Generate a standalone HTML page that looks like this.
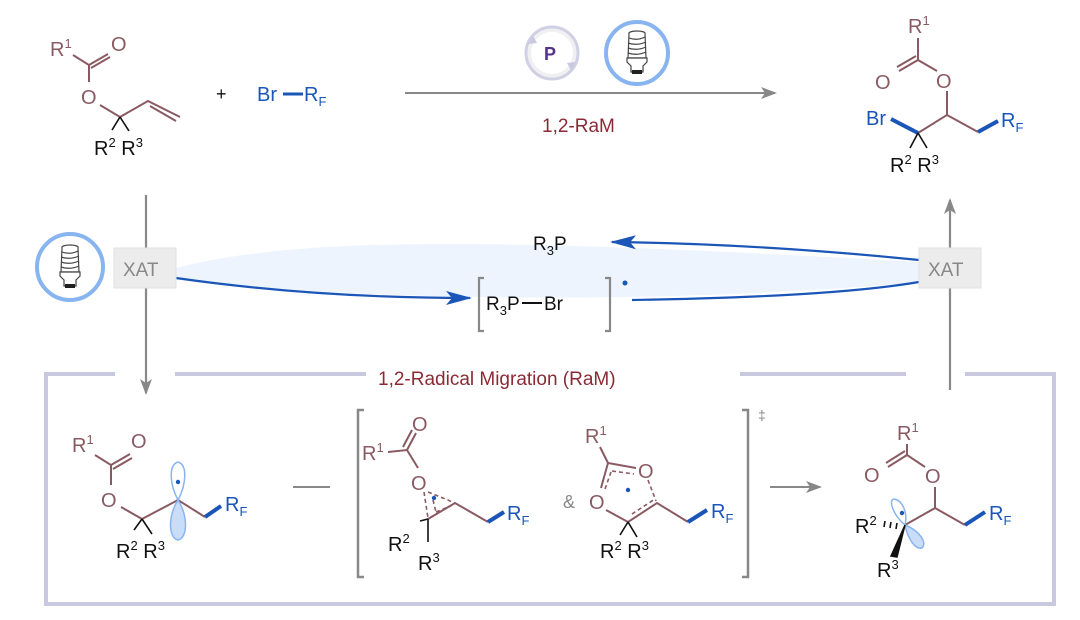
<!DOCTYPE html>
<html><head><meta charset="utf-8"><style>
html,body{margin:0;padding:0;background:#fff;width:1080px;height:620px;overflow:hidden}
svg{display:block}
text{font-family:"Liberation Sans",sans-serif}
.m{fill:#8a5a62}.k{fill:#111}.b{fill:#1a55b8}
.ml{stroke:#8a5a62;stroke-width:2;fill:none}
.kl{stroke:#111;stroke-width:1.6;fill:none}
.bl{stroke:#1a55b8;stroke-width:4;fill:none}
.dl{stroke:#8a5a62;stroke-width:1.6;stroke-dasharray:4,3;fill:none}
</style></head><body>
<svg width="1080" height="620" viewBox="0 0 1080 620" xmlns="http://www.w3.org/2000/svg">
<defs>
<marker id="ga2" markerWidth="16" markerHeight="12" refX="14" refY="6" orient="auto" markerUnits="userSpaceOnUse"><path d="M0,0 L16,6 L0,12 L4,6z" fill="#888"/></marker>
<marker id="ba" markerWidth="26" markerHeight="14" refX="24" refY="7" orient="auto" markerUnits="userSpaceOnUse"><path d="M0,0 L26,7 L0,14 L6,7z" fill="#1a55b8"/></marker>
<g id="bulb">
<path d="M-8,-16 C-10,-20 10,-20 8,-16 L9,8 L-9,8z" fill="#fff" stroke="#444" stroke-width="1.2"/>
<path d="M-8,-12 Q0,-9 8,-13 M-9,-7 Q0,-4 9,-8 M-9,-2 Q0,1 9,-3 M-9,3 Q0,6 9,2" stroke="#444" stroke-width="1.2" fill="none"/>
<path d="M-10,8 L10,8 L10,12 L6,16 L6,22 L-6,22 L-6,16 L-10,12z" fill="#fff" stroke="#444" stroke-width="1.2"/>
<rect x="-5" y="20" width="10" height="4" fill="#222"/>
</g>
</defs>

<text x="50" y="56" font-size="20" class="m">R<tspan font-size="13" dy="-8">1</tspan></text>
<text x="111" y="51" font-size="20" class="m">O</text>
<path class="ml" d="M73,55 L89,65 L89,82 M89,65 L108,54 M91,68 L110,57"/>
<text x="81" y="104" font-size="20" class="m">O</text>
<path class="ml" d="M100,105 L120,117 L148,101 L180,117 M150,106 L176,121"/>
<path class="kl" d="M120,117 L112,130 M120,117 L129,131"/>
<text x="94" y="155" font-size="20" class="k">R<tspan font-size="13" dy="-8">2</tspan><tspan dy="8"> R</tspan><tspan font-size="13" dy="-8">3</tspan></text>
<text x="216" y="100" font-size="18" class="k">+</text>
<text x="257" y="101" font-size="20" class="b">Br</text>
<path d="M283,94 L303,94" stroke="#1a55b8" stroke-width="3"/>
<text x="304" y="101" font-size="20" class="b">R<tspan font-size="13" dy="5">F</tspan></text>

<line x1="405" y1="93" x2="775" y2="93" stroke="#888" stroke-width="2" marker-end="url(#ga2)"/>
<circle cx="552" cy="53" r="26" fill="#f0f0f2" stroke="#d0d0e4" stroke-width="3"/>
<circle cx="552" cy="53" r="21" fill="#fff"/>
<path d="M528,44 l5,-8 l4,7z M576,62 l-5,8 l-4,-7z" fill="#c8c8e0"/>
<text x="544" y="60" font-size="18" font-weight="bold" fill="#553388">P</text>
<circle cx="637" cy="53" r="31" fill="#fff" stroke="#88b4f0" stroke-width="4"/>
<use href="#bulb" x="637" y="50"/>
<text x="542" y="132" font-size="19" fill="#8b2a35">1,2-RaM</text>

<text x="908" y="33" font-size="20" class="m">R<tspan font-size="13" dy="-8">1</tspan></text>
<path class="ml" d="M918,38 L918,60 L937,71 M918,60 L899,71 M916,56 L897,67"/>
<text x="875" y="89" font-size="20" class="m">O</text>
<text x="936" y="88" font-size="20" class="m">O</text>
<path class="ml" d="M947,91 L947,115 L918,133 M947,115 L978,132"/>
<path class="bl" d="M891,119 L918,133 M978,132 L998,121"/>
<text x="866" y="125" font-size="20" class="b">Br</text>
<text x="1001" y="127" font-size="20" class="b">R<tspan font-size="13" dy="5">F</tspan></text>
<path class="kl" d="M918,133 L910,148 M918,133 L927,148"/>
<text x="890" y="172" font-size="20" class="k">R<tspan font-size="13" dy="-8">2</tspan><tspan dy="8"> R</tspan><tspan font-size="13" dy="-8">3</tspan></text>

<path d="M176,268 C300,236 500,238 919,262 L919,282 C700,302 400,304 176,280z" fill="#edf4fe"/>
<line x1="146" y1="195" x2="146" y2="393" stroke="#888" stroke-width="2.2" marker-end="url(#ga2)"/>
<line x1="950" y1="390" x2="950" y2="200" stroke="#888" stroke-width="2.2" marker-end="url(#ga2)"/>
<path d="M919,260 C800,248 700,243 612,242" stroke="#1a55b8" stroke-width="2.2" fill="none" marker-end="url(#ba)"/>
<path d="M176,278 C260,290 360,298 470,298" stroke="#1a55b8" stroke-width="2.2" fill="none" marker-end="url(#ba)"/>
<path d="M632,300 C760,298 860,292 919,282" stroke="#1a55b8" stroke-width="2.2" fill="none"/>
<rect x="114" y="248" width="62" height="40" fill="#ececec" stroke="#e2e2e2"/>
<text x="123" y="276" font-size="19" fill="#888">XAT</text>
<rect x="919" y="248" width="62" height="40" fill="#ececec" stroke="#e2e2e2"/>
<text x="928" y="276" font-size="19" fill="#888">XAT</text>
<circle cx="70" cy="267" r="33" fill="#fff" stroke="#88b4f0" stroke-width="4"/>
<use href="#bulb" x="70" y="264"/>
<text x="533" y="250" font-size="19" class="k">R<tspan font-size="13" dy="5">3</tspan><tspan dy="-5">P</tspan></text>
<path d="M484,278 L479,278 L479,331 L484,331 M605,278 L610,278 L610,331 L605,331" stroke="#888" stroke-width="2.2" fill="none"/>
<text x="486" y="310" font-size="19" class="k">R<tspan font-size="13" dy="5">3</tspan><tspan dy="-5">P</tspan></text>
<line x1="522" y1="303" x2="542" y2="303" stroke="#111" stroke-width="2"/>
<text x="544" y="310" font-size="19" class="k">Br</text>
<circle cx="625" cy="283" r="2.5" fill="#1a55b8"/>

<path d="M115,374 L46,374 L46,604 L1054,604 L1054,374 L965,374 M175,374 L366,374 M740,374 L906,374" stroke="#c8c8de" stroke-width="4" fill="none"/>
<text x="378" y="385" font-size="19" fill="#8b2a35">1,2-Radical Migration (RaM)</text>

<text x="72" y="452" font-size="20" class="m">R<tspan font-size="13" dy="-8">1</tspan></text>
<text x="131" y="448" font-size="20" class="m">O</text>
<path class="ml" d="M95,455 L111,465 L111,485 M111,465 L130,454 M113,469 L132,458"/>
<text x="101" y="507" font-size="20" class="m">O</text>
<path class="ml" d="M121,507 L142,519 L178,500 L205,517"/>
<path class="bl" d="M205,517 L221,506"/>
<text x="225" y="511" font-size="20" class="b">R<tspan font-size="13" dy="5">F</tspan></text>
<path class="kl" d="M142,519 L134,530 M142,519 L152,534"/>
<text x="116" y="558" font-size="20" class="k">R<tspan font-size="13" dy="-8">2</tspan><tspan dy="8"> R</tspan><tspan font-size="13" dy="-8">3</tspan></text>
<path d="M178,500 C170,485 168,465 178,462 C188,465 186,485 178,500z" fill="#fff" stroke="#88b4f0" stroke-width="1.5"/>
<path d="M178,500 C168,515 168,538 178,540 C188,538 188,515 178,500z" fill="#c9ddf8" stroke="#88b4f0" stroke-width="1.5"/>
<circle cx="178" cy="482" r="2.2" fill="#1a55b8"/>
<line x1="293" y1="487" x2="330" y2="487" stroke="#888" stroke-width="2"/>
<path d="M364,410 L358,410 L358,577 L364,577 M742,410 L748,410 L748,577 L742,577" stroke="#888" stroke-width="2.5" fill="none"/>
<text x="758" y="420" font-size="14" fill="#888">‡</text>

<text x="362" y="460" font-size="20" class="m">R<tspan font-size="13" dy="-8">1</tspan></text>
<text x="412" y="431" font-size="20" class="m">O</text>
<path class="ml" d="M388,452 L407,450 L418,468 M407,450 L416,433 M403,447 L412,430"/>
<text x="411" y="490" font-size="20" class="m">O</text>
<path class="dl" d="M424,492 L428,518 M428,492 L455,503 M433,500 L436,512 M436,512 L451,506"/>
<path class="ml" d="M428,519 L455,503 L488,522"/>
<path class="bl" d="M488,522 L504,512"/>
<text x="507" y="520" font-size="20" class="b">R<tspan font-size="13" dy="5">F</tspan></text>
<path class="kl" d="M428,519 L428,542 M420,521 L428,519"/>
<circle cx="434" cy="498" r="2.2" fill="#1a55b8"/>
<text x="388" y="551" font-size="20" class="k">R<tspan font-size="13" dy="-8">2</tspan></text>
<text x="418" y="570" font-size="20" class="k">R<tspan font-size="13" dy="-8">3</tspan></text>
<text x="563" y="508" font-size="18" fill="#888">&amp;</text>

<text x="585" y="443" font-size="20" class="m">R<tspan font-size="13" dy="-8">1</tspan></text>
<path class="ml" d="M600,447 L608,463 L636,468 M608,463 L601,488 M606,510 L628,522 L657,503 L688,522"/>
<path class="dl" d="M612,471 L634,474 M611,472 L605,489 M632,514 L655,499 M648,480 L656,501"/>
<text x="638" y="478" font-size="20" class="m">O</text>
<text x="589" y="509" font-size="20" class="m">O</text>
<path class="bl" d="M688,522 L707,510"/>
<text x="711" y="518" font-size="20" class="b">R<tspan font-size="13" dy="5">F</tspan></text>
<path class="kl" d="M628,522 L620,535 M628,522 L637,537"/>
<circle cx="628" cy="490" r="2.2" fill="#1a55b8"/>
<text x="600" y="558" font-size="20" class="k">R<tspan font-size="13" dy="-8">2</tspan><tspan dy="8"> R</tspan><tspan font-size="13" dy="-8">3</tspan></text>

<line x1="770" y1="487" x2="820" y2="487" stroke="#888" stroke-width="2" marker-end="url(#ga2)"/>

<text x="897" y="440" font-size="20" class="m">R<tspan font-size="13" dy="-8">1</tspan></text>
<path class="ml" d="M907,444 L907,455 L925,467 M907,455 L888,467 M905,451 L886,463"/>
<text x="864" y="482" font-size="20" class="m">O</text>
<text x="925" y="483" font-size="20" class="m">O</text>
<path class="ml" d="M935,487 L935,508 L905,525 M935,508 L965,525"/>
<path d="M905,525 C893,515 888,500 894,499 C902,500 908,512 905,525z" fill="#fff" stroke="#88b4f0" stroke-width="1.5"/>
<path d="M905,525 C908,540 916,550 922,548 C928,542 918,530 905,525z" fill="#c9ddf8" stroke="#88b4f0" stroke-width="1.5"/>
<circle cx="902" cy="513" r="2.2" fill="#1a55b8"/>
<path class="bl" d="M965,525 L985,512"/>
<text x="989" y="520" font-size="20" class="b">R<tspan font-size="13" dy="5">F</tspan></text>
<path d="M905,525 L891,556 L897,557z" fill="#111" stroke="#111" stroke-width="1.5"/>
<path d="M897,523 L896,529 M891,522 L890,528 M885,521 L884,527" stroke="#111" stroke-width="1.6"/>
<text x="855" y="533" font-size="20" class="k">R<tspan font-size="13" dy="-8">2</tspan></text>
<text x="877" y="577" font-size="20" class="k">R<tspan font-size="13" dy="-8">3</tspan></text>
</svg>
</body></html>
